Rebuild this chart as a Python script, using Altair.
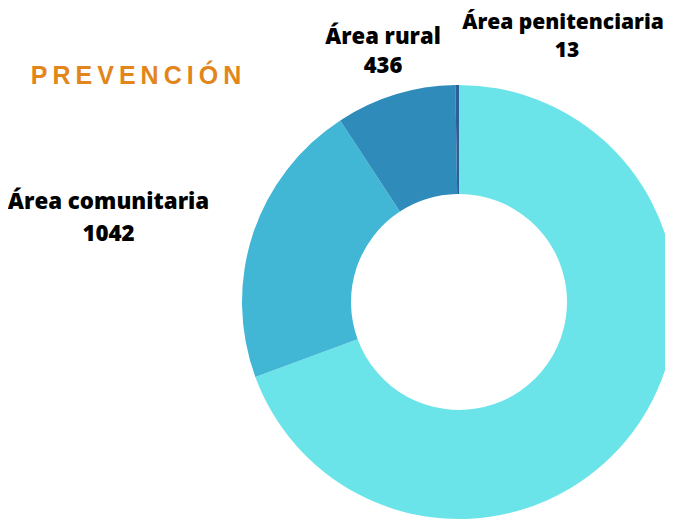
import altair as alt
import pandas as pd

categories = ["Otras áreas", "Área comunitaria", "Área rural", "Área penitenciaria"]
values = [3380, 1042, 436, 13]
colors = ["#6AE4E8", "#42B7D5", "#2E8BBA", "#2C5E98"]
title_text = "PREVENCIÓN"

df = pd.DataFrame({"cat": categories, "value": values, "idx": list(range(len(categories)))})
df["value_label"] = df["value"].astype(str)

CX, CY = 451, 294

base = alt.Chart(df)

arc = base.mark_arc(outerRadius=217, innerRadius=108).encode(
    theta=alt.Theta("value:Q", stack=True),
    color=alt.Color("cat:N", scale=alt.Scale(domain=categories, range=colors), legend=None),
    order=alt.Order("idx:Q"),
    x=alt.value(CX),
    y=alt.value(CY),
)

# label layout: x centre of name, x centre of value, baseline of name, baseline of value, font size
label_pos = {
    "Área comunitaria": (100.5, 100.5, 201, 233, 22.3),
    "Área rural": (375, 375, 36, 65, 22),
    "Área penitenciaria": (555, 559, 21, 49, 21),
}

layers = [arc]
font = "Open Sans"
for cat, (lx, vx, ly1, ly2, fs) in label_pos.items():
    sub = base.transform_filter(alt.datum.cat == cat)
    layers.append(
        sub.mark_text(font=font, fontWeight=800, fontSize=fs, color="#000000",
                      align="center", baseline="alphabetic").encode(
            text="cat:N", x=alt.value(lx), y=alt.value(ly1))
    )
    layers.append(
        sub.mark_text(font=font, fontWeight=800, fontSize=fs, color="#000000",
                      align="center", baseline="alphabetic").encode(
            text="value_label:N", x=alt.value(vx), y=alt.value(ly2))
    )

# spaced-out title (thin spaces emulate letter spacing)
spaced_title = "\u2009".join(title_text)
title_df = pd.DataFrame({"t": [spaced_title]})
title = alt.Chart(title_df).mark_text(
    font="Liberation Sans", fontWeight="bold", fontSize=25, color="#E2861B",
    align="center", baseline="alphabetic",
).encode(text="t:N", x=alt.value(128), y=alt.value(76))
layers.append(title)

chart = alt.layer(*layers).properties(
    width=657, height=514, padding=0, background="#FFFFFF",
    autosize=alt.AutoSizeParams(type="none")
).configure_view(strokeWidth=0, stroke="transparent")

chart.save("out.html", embed_options={"renderer": "svg", "actions": False})
